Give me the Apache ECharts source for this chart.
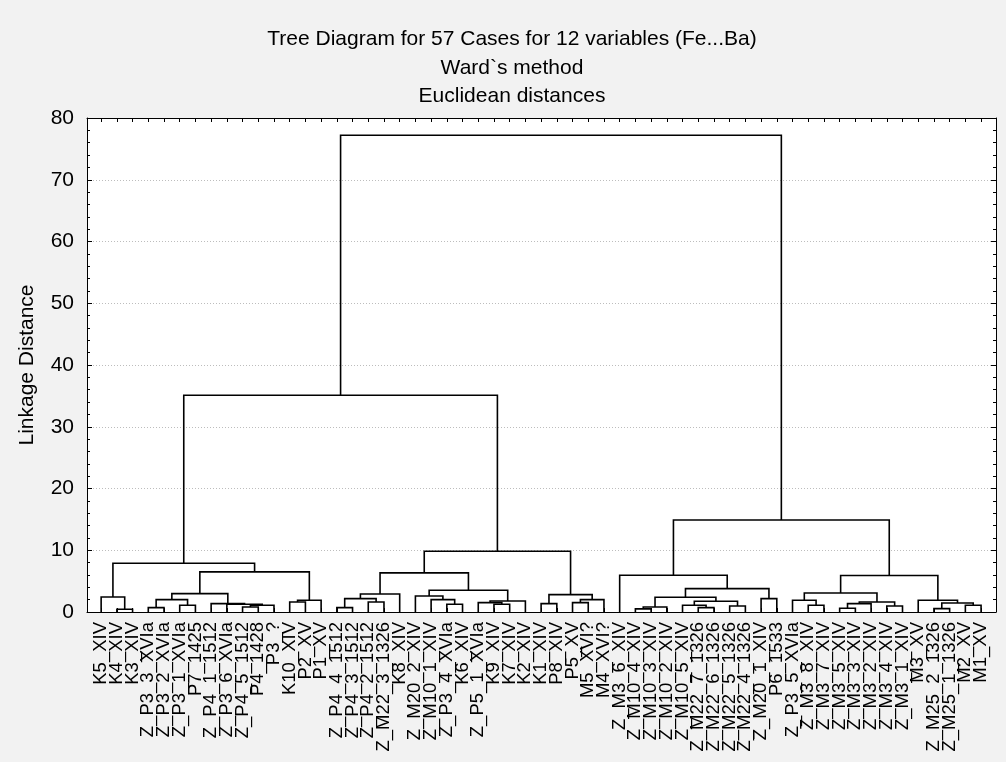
<!DOCTYPE html>
<html>
<head>
<meta charset="utf-8">
<script src="https://cdn.jsdelivr.net/npm/echarts@6/dist/echarts.min.js"></script>
<style>
  html, body { margin: 0; padding: 0; background: #f2f2f2; }
  #chart { width: 1006px; height: 762px; }
</style>
</head>
<body>
<div id="chart"></div>
<script>
// Leaves in dendrogram order (left to right)
const leafLabels = [
  'K5_XIV','K4_XIV','K3_XIV','Z_P3_3_XVIa','Z_P3_2_XVIa','Z_P3_1_XVIa','P7_1425',
  'Z_P4_1_1512','Z_P3_6_XVIa','Z_P4_5_1512','P4_1428','P3_?','K10_XIV','P2_XV','P1_XV',
  'Z_P4_4_1512','Z_P4_3_1512','Z_P4_2_1512','Z_M22_3_1326','K8_XIV','Z_M20_2_XIV',
  'Z_M10_1_XIV','Z_P3_4_XVIa','K6_XIV','Z_P5_1_XVIa','K9_XIV','K7_XIV','K2_XIV','K1_XIV',
  'P8_XIV','P5_XV','M5_XVI?','M4_XVI?','Z_M3_6_XIV','Z_M10_4_XIV','Z_M10_3_XIV',
  'Z_M10_2_XIV','Z_M10_5_XIV','Z_M22_7_1326','Z_M22_6_1326','Z_M22_5_1326','Z_M22_4_1326',
  'Z_M20_1_XIV','P6_1533','Z_P3_5_XVIa','Z_M3_8_XIV','Z_M3_7_XIV','Z_M3_5_XIV','Z_M3_3_XIV',
  'Z_M3_2_XIV','Z_M3_4_XIV','Z_M3_1_XIV','M3_XV','Z_M25_2_1326','Z_M25_1_1326','M2_XV','M1_XV'
];

// Ward linkage: [node A, node B, linkage distance]
// nodes 0..56 are leaves, node 57+k is the cluster formed by the k-th join
const linkage = [
  [1, 2, 0.45],   [0, 57, 2.43],  [3, 4, 0.71],   [5, 6, 1.09],   [59, 60, 2.0],
  [9, 10, 0.8],   [62, 11, 1.1],  [8, 63, 1.25],  [7, 64, 1.36],  [61, 65, 2.98],
  [12, 13, 1.62], [67, 14, 1.9],  [66, 68, 6.49], [58, 69, 7.9],
  [15, 16, 0.71], [17, 18, 1.62], [71, 72, 2.17], [73, 19, 2.92],
  [22, 23, 1.25], [21, 75, 2.0],  [20, 76, 2.6],  [25, 26, 1.25], [24, 78, 1.52],
  [79, 27, 1.79], [77, 80, 3.52], [74, 81, 6.33],
  [28, 29, 1.36], [30, 31, 1.52], [84, 32, 2.0],  [83, 85, 2.82], [82, 86, 9.85],
  [70, 87, 35.1],
  [34, 35, 0.5],  [89, 36, 0.8],  [38, 39, 0.71], [37, 91, 1.09], [40, 41, 0.98],
  [92, 93, 1.73], [90, 94, 2.38], [42, 43, 2.17], [95, 96, 3.79], [33, 97, 5.95],
  [45, 46, 1.09], [44, 99, 1.9],  [47, 48, 0.6],  [101, 49, 1.36], [50, 51, 0.98],
  [102, 103, 1.62], [100, 104, 3.08], [53, 54, 0.55], [55, 56, 1.09], [106, 107, 1.46],
  [52, 108, 1.9], [105, 109, 5.9], [98, 110, 14.9],
  [88, 111, 77.2]
];

const yTicks = [0, 10, 20, 30, 40, 50, 60, 70, 80];
const X_MIN = -0.9, X_MAX = 56.95;

// Each join becomes one bracket: [xA, hA, xB, hB, h]
const nodeX = leafLabels.map((_, i) => i);
const nodeH = leafLabels.map(() => 0);
const brackets = [];
linkage.forEach(([a, b, h]) => {
  brackets.push([nodeX[a], nodeH[a], nodeX[b], nodeH[b], h]);
  nodeX.push((nodeX[a] + nodeX[b]) / 2);
  nodeH.push(h);
});
const leafIdx = leafLabels.map((_, i) => i);
// blank end stops keep every leaf name visible next to the axis ends
const labelStops = [X_MIN].concat(leafIdx, [X_MAX]);

const FONT = '"Liberation Sans", Arial, sans-serif';
const chart = echarts.init(document.getElementById('chart'));

chart.setOption({
  backgroundColor: '#f2f2f2',
  animation: false,
  title: {
    text: 'Tree Diagram for 57 Cases for 12 variables (Fe...Ba)\nWard`s method\nEuclidean distances',
    left: 512,
    top: 25,
    padding: 0,
    textAlign: 'center',
    textStyle: { fontFamily: FONT, fontSize: 21, fontWeight: 'normal', color: '#000', lineHeight: 28.5 }
  },
  grid: {
    left: 87, right: 10, top: 118, bottom: 150,
    show: true, backgroundColor: '#ffffff', borderWidth: 0
  },
  xAxis: [{
    type: 'value', position: 'bottom', min: X_MIN, max: X_MAX,
    axisLine: { show: true, onZero: false, lineStyle: { color: '#000', width: 1 } },
    axisTick: { show: true, inside: true, length: 4, customValues: leafIdx, lineStyle: { color: '#000' } },
    axisLabel: {
      show: true, rotate: 90, margin: 10, customValues: labelStops,
      hideOverlap: false,
      fontFamily: FONT, fontSize: 18.5, color: '#000',
      formatter: v => (Number.isInteger(v) ? leafLabels[v] : '')
    },
    splitLine: { show: false }
  }, {
    type: 'value', position: 'top', min: X_MIN, max: X_MAX,
    axisLine: { show: true, onZero: false, lineStyle: { color: '#000', width: 1 } },
    axisTick: { show: true, inside: true, length: 4, customValues: leafIdx, lineStyle: { color: '#000' } },
    axisLabel: { show: false },
    splitLine: { show: false }
  }],
  yAxis: [{
    type: 'value', position: 'left', min: 0, max: 80, interval: 10,
    name: 'Linkage Distance', nameLocation: 'middle', nameGap: 49, nameRotate: 90,
    nameTextStyle: { fontFamily: FONT, fontSize: 21, color: '#000' },
    axisLine: { show: true, onZero: false, lineStyle: { color: '#000', width: 1 } },
    axisTick: { show: true, inside: true, length: 5, lineStyle: { color: '#000' } },
    minorTick: { show: true, splitNumber: 5, length: 3, lineStyle: { color: '#000' } },
    axisLabel: {
      margin: 13, fontFamily: FONT, fontSize: 21, color: '#000',
      customValues: yTicks, showMinLabel: true, showMaxLabel: true
    },
    splitLine: { show: true, lineStyle: { color: '#bdbdbd', type: [1, 2], width: 1 } }
  }, {
    type: 'value', position: 'right', min: 0, max: 80, interval: 10,
    axisLine: { show: true, onZero: false, lineStyle: { color: '#000', width: 1 } },
    axisTick: { show: true, inside: true, length: 5, lineStyle: { color: '#000' } },
    minorTick: { show: true, splitNumber: 5, length: 3, lineStyle: { color: '#000' } },
    axisLabel: { show: false },
    splitLine: { show: false }
  }],
  series: [{
    type: 'custom',
    xAxisIndex: 0,
    yAxisIndex: 0,
    data: brackets,
    encode: { x: [0, 2], y: [1, 3, 4] },
    renderItem: function (params, api) {
      const p1 = api.coord([api.value(0), api.value(1)]);
      const p2 = api.coord([api.value(0), api.value(4)]);
      const p3 = api.coord([api.value(2), api.value(4)]);
      const p4 = api.coord([api.value(2), api.value(3)]);
      return {
        type: 'polyline',
        shape: { points: [p1, p2, p3, p4] },
        style: { stroke: '#000', lineWidth: 1.6, fill: 'none' }
      };
    }
  }]
});
</script>
</body>
</html>
